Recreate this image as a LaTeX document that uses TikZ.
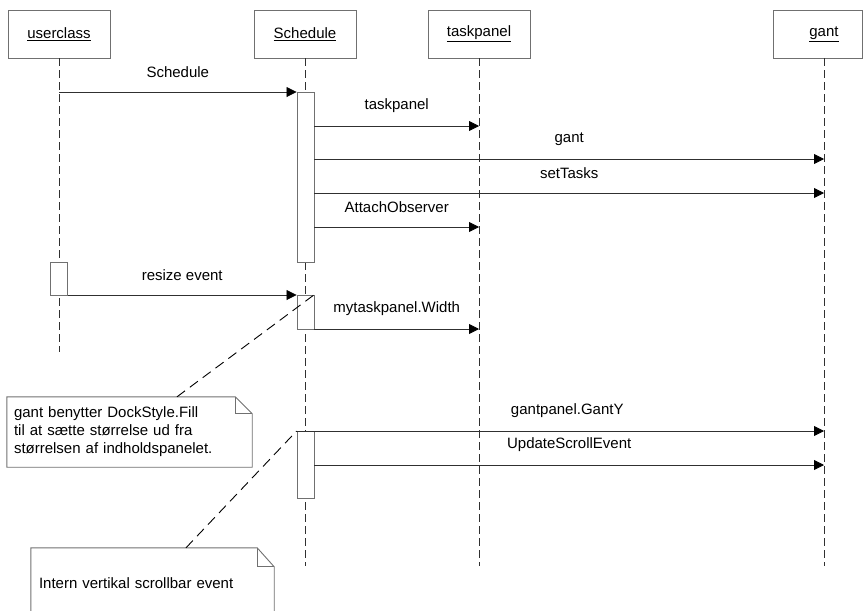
\documentclass[tikz,border=0pt]{standalone}
\usepackage{fontspec}
\setmainfont{Liberation Sans}
\usetikzlibrary{arrows.meta}
\definecolor{boxline}{HTML}{707070}
\definecolor{wire}{HTML}{303030}
\begin{document}
\begin{tikzpicture}[x=1pt,y=-1pt,
  every node/.style={font=\fontsize{15}{18}\selectfont},
  head/.style={draw=boxline, line width=0.9pt, fill=white, minimum width=102pt,
    minimum height=48pt, inner sep=0pt},
  life/.style={draw=wire, line width=0.8pt, dash pattern=on 8pt off 4pt},
  act/.style={draw=boxline, line width=0.9pt, fill=white, minimum width=17pt, inner sep=0pt},
  msg/.style={draw=wire, line width=0.8pt, -{Triangle[length=10pt,width=10pt,color=black]}},
  lbl/.style={midway, yshift=20pt, inner sep=0pt},
  notebox/.style={minimum height=70pt, inner xsep=7pt, inner ysep=0pt, align=left},
  notelink/.style={draw=black, line width=0.9pt, dash pattern=on 10pt off 6pt},
  noteline/.style={draw=boxline, line width=0.9pt}
]
\useasboundingbox (0,0) rectangle (863,611);
\clip (0,0) rectangle (863,611);

% object heads
\node[head] (user) at (59,34) {\underline{userclass}};
\node[head] (sched) at (305,34) {\underline{Schedule}};
\node[head] (task) at (479,34) {\underline{taskpanel}};
\node[head, minimum width=89pt] (gant) at (817.5,34) {\hspace{13pt}\underline{gant}};
\coordinate (gantx) at (824,34);

% lifelines
\coordinate (userend) at (59,352);
\coordinate (schedend) at (305,566);
\coordinate (taskend) at (479,566);
\coordinate (gantend) at (824,566);
\draw[life] (user.south) -- (userend);
\draw[life] (sched.south) -- (schedend);
\draw[life] (task.south) -- (taskend);
\draw[life] (gantx |- gant.south) -- (gantend);

% activation bars
\node[act, minimum height=170pt] (act1) at (305.5,177) {};
\node[act, minimum height=33pt] (actu) at (59,278.5) {};
\node[act, minimum height=34pt] (act2) at (305.5,312) {};
\node[act, minimum height=67pt] (act3) at (305.5,465) {};

% message rows
\coordinate (r1) at (0,92);
\coordinate (r2) at (0,126);
\coordinate (r3) at (0,159);
\coordinate (r4) at (0,193);
\coordinate (r5) at (0,227);
\coordinate (r6) at (0,295);
\coordinate (r7) at (0,329);
\coordinate (r8) at (0,431);
\coordinate (r9) at (0,465);

\draw[msg] (user |- r1) -- (act1.west |- r1) node[lbl] {Schedule};
\draw[msg] (act1.east |- r2) -- (task |- r2) node[lbl] {taskpanel};
\draw[msg] (act1.east |- r3) -- (gantx |- r3) node[lbl] {gant};
\draw[msg] (act1.east |- r4) -- (gantx |- r4) node[lbl] {setTasks};
\draw[msg] (act1.east |- r5) -- (task |- r5) node[lbl] {AttachObserver};
\draw[msg] (actu.east |- r6) -- (act2.west |- r6) node[lbl] {resize event};
\draw[msg] (act2.east |- r7) -- (task |- r7) node[lbl] {mytaskpanel.Width};
\draw[msg] (act3.west |- r8) -- (gantx |- r8) node[lbl, xshift=7pt] {gantpanel.GantY};
\draw[msg] (act3.east |- r9) -- (gantx |- r9) node[lbl] {UpdateScrollEvent};

% notes
\node[notebox, minimum width=245pt, text width=231pt] (note1) at (129.5,432)
  {gant benytter DockStyle.Fill\\til at sætte størrelse ud fra\\størrelsen af indholdspanelet.};
\draw[noteline] (note1.north west) -- ([xshift=-17pt]note1.north east)
  -- ([yshift=-17pt]note1.north east) -- (note1.south east) -- (note1.south west) -- cycle;
\draw[noteline] ([xshift=-17pt]note1.north east) -- ([xshift=-17pt,yshift=-17pt]note1.north east)
  -- ([yshift=-17pt]note1.north east);
\draw[notelink] ([xshift=47.5pt]note1.north) -- (act2.north east);

\node[notebox, minimum width=241pt, text width=227pt, inner xsep=8pt] (note2) at (152.5,583)
  {Intern vertikal scrollbar event};
\draw[noteline] (note2.north west) -- ([xshift=-17pt]note2.north east)
  -- ([yshift=-19pt]note2.north east) -- (note2.south east) -- (note2.south west) -- cycle;
\draw[noteline] ([xshift=-17pt]note2.north east) -- ([xshift=-17pt,yshift=-19pt]note2.north east)
  -- ([yshift=-19pt]note2.north east);
\draw[notelink] ([xshift=33.5pt]note2.north) -- (act3.north west);
\end{tikzpicture}
\end{document}
